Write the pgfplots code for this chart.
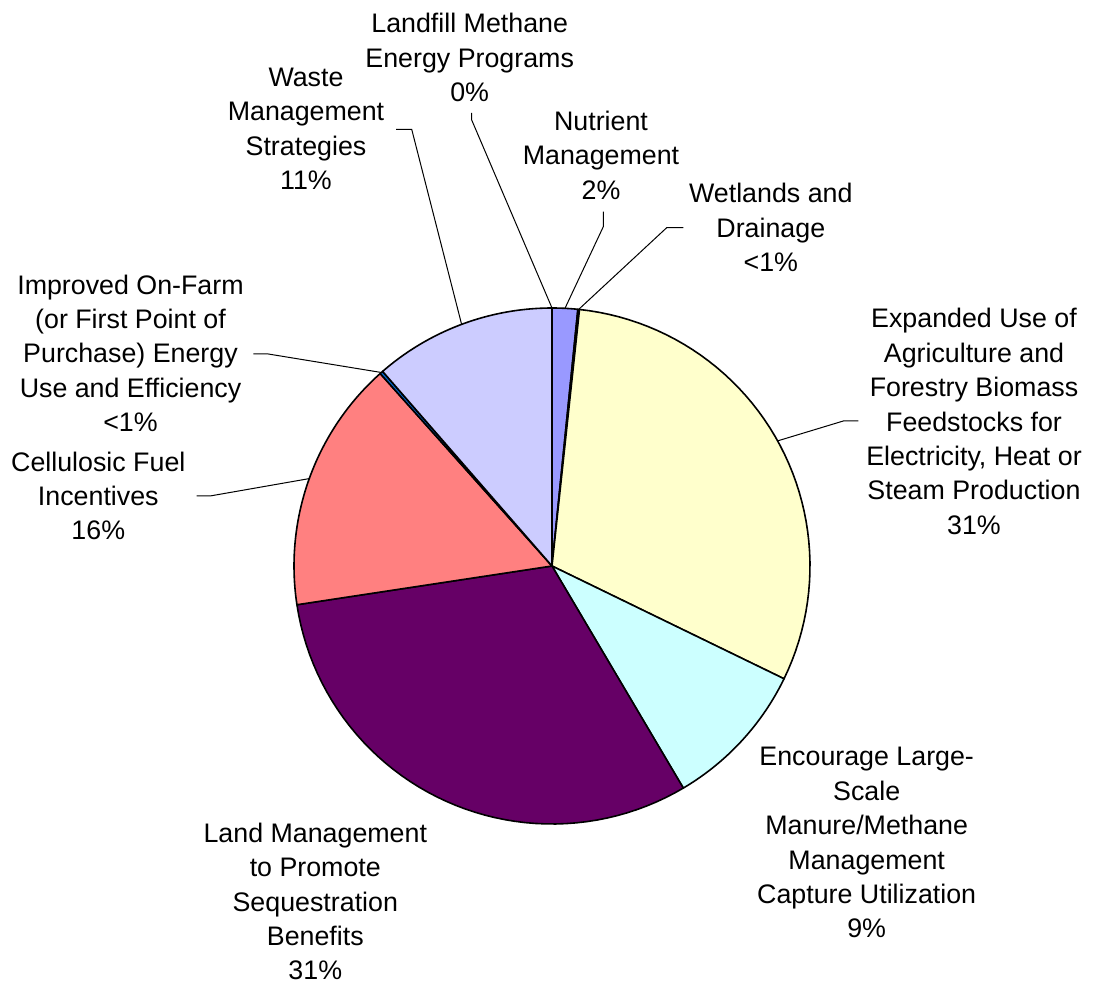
\documentclass[border=0pt]{standalone}
\usepackage{fontspec}
\setmainfont{Liberation Sans}
\usepackage{pgfplots}
\pgfplotsset{compat=1.18}
\definecolor{cA}{HTML}{9999FF}% Nutrient Management
\definecolor{cB}{HTML}{993366}% Wetlands and Drainage
\definecolor{cC}{HTML}{FFFFCC}% Expanded Use
\definecolor{cD}{HTML}{CCFFFF}% Encourage Large-Scale
\definecolor{cE}{HTML}{660066}% Land Management
\definecolor{cF}{HTML}{FF8080}% Cellulosic
\definecolor{cG}{HTML}{0066CC}% Improved On-Farm
\definecolor{cH}{HTML}{CCCCFF}% Waste Management
\definecolor{cI}{HTML}{000080}% Landfill Methane
% slice shares in percent, clockwise from 12 o'clock
\def\pA{1.6}  % Nutrient Management
\def\pB{0.1}  % Wetlands and Drainage
\def\pC{30.5} % Expanded Use of Agriculture and Forestry Biomass
\def\pD{9.3}  % Encourage Large-Scale Manure/Methane
\def\pE{31.1} % Land Management
\def\pF{15.8} % Cellulosic Fuel Incentives
\def\pG{0.2}  % Improved On-Farm
\def\pH{11.4} % Waste Management Strategies
\def\pI{0.0}  % Landfill Methane
\pgfmathsetmacro\aA{90}
\pgfmathsetmacro\aB{\aA-3.6*\pA}
\pgfmathsetmacro\aC{\aB-3.6*\pB}
\pgfmathsetmacro\aD{\aC-3.6*\pC}
\pgfmathsetmacro\aE{\aD-3.6*\pD}
\pgfmathsetmacro\aF{\aE-3.6*\pE}
\pgfmathsetmacro\aG{\aF-3.6*\pF}
\pgfmathsetmacro\aH{\aG-3.6*\pG}
\pgfmathsetmacro\aI{\aH-3.6*\pH}
\def\cx{552}\def\cy{420}\def\rr{258}
\tikzset{lab/.style={font=\fontsize{13.4}{17.2}\selectfont, align=center, anchor=base, inner sep=0pt}}
\begin{document}
\begin{tikzpicture}
\begin{axis}[
  scale only axis, width=547pt, height=493pt,
  xmin=0, xmax=1094, ymin=0, ymax=986,
  hide axis, clip=false,
]
\coordinate (ll) at (rel axis cs:0,0);
\coordinate (ur) at (rel axis cs:1,1);
\pgfplotsset{slice/.style={draw=black, line width=0.8pt, line join=round, samples=50}}
\addplot[slice, fill=cA, domain=\aB:\aA] ({\cx+\rr*cos(x)},{\cy+\rr*sin(x)}) -- (axis cs:\cx,\cy) -- cycle;
\addplot[slice, fill=cB, domain=\aC:\aB, samples=3] ({\cx+\rr*cos(x)},{\cy+\rr*sin(x)}) -- (axis cs:\cx,\cy) -- cycle;
\addplot[slice, fill=cC, domain=\aD:\aC] ({\cx+\rr*cos(x)},{\cy+\rr*sin(x)}) -- (axis cs:\cx,\cy) -- cycle;
\addplot[slice, fill=cD, domain=\aE:\aD] ({\cx+\rr*cos(x)},{\cy+\rr*sin(x)}) -- (axis cs:\cx,\cy) -- cycle;
\addplot[slice, fill=cE, domain=\aF:\aE] ({\cx+\rr*cos(x)},{\cy+\rr*sin(x)}) -- (axis cs:\cx,\cy) -- cycle;
\addplot[slice, fill=cF, domain=\aG:\aF] ({\cx+\rr*cos(x)},{\cy+\rr*sin(x)}) -- (axis cs:\cx,\cy) -- cycle;
\addplot[slice, fill=cG, domain=\aH:\aG, samples=3] ({\cx+\rr*cos(x)},{\cy+\rr*sin(x)}) -- (axis cs:\cx,\cy) -- cycle;
\addplot[slice, fill=cH, domain=\aI:\aH] ({\cx+\rr*cos(x)},{\cy+\rr*sin(x)}) -- (axis cs:\cx,\cy) -- cycle;
% leader lines
\pgfplotsset{leader/.style={black, line width=0.5pt, mark=none}}
\addplot[leader] coordinates {(471.7,873) (471.7,866) (552,678)};
\addplot[leader] coordinates {(396,856.7) (411.7,856.7) (461.6,661.7)};
\addplot[leader] coordinates {(603.3,774.3) (603.3,759.3) (565,677.7)};
\addplot[leader] coordinates {(683.3,758.3) (666.7,758.3) (578.7,676.6)};
\addplot[leader] coordinates {(858.3,565) (843.3,565) (777.6,545.1)};
\addplot[leader] coordinates {(253.3,632) (268.3,632) (381.4,613.5)};
\addplot[leader] coordinates {(196.7,490) (210,490) (309.3,507.4)};
% labels (anchored at the baseline of the last line)
\node[lab] at (axis cs:469.7,884.5) {Landfill Methane\\Energy Programs\\0\%};
\node[lab] at (axis cs:306,796.5) {Waste\\Management\\Strategies\\11\%};
\node[lab] at (axis cs:601,786.7) {Nutrient\\Management\\2\%};
\node[lab] at (axis cs:770.8,714.3) {Wetlands and\\Drainage\\<1\%};
\node[lab] at (axis cs:974,451.6) {Expanded Use of\\Agriculture and\\Forestry Biomass\\Feedstocks for\\Electricity, Heat or\\Steam Production\\31\%};
\node[lab] at (axis cs:130.5,554.3) {Improved On-Farm\\(or First Point of\\Purchase) Energy\\Use and Efficiency\\<1\%};
\node[lab] at (axis cs:98.3,446) {Cellulosic Fuel\\Incentives\\16\%};
\node[lab] at (axis cs:866.7,48) {Encourage Large-\\Scale\\Manure/Methane\\Management\\Capture Utilization\\9\%};
\node[lab] at (axis cs:315.3,6) {Land Management\\to Promote\\Sequestration\\Benefits\\31\%};
\end{axis}
\pgfresetboundingbox
\path (ll) rectangle (ur);
\end{tikzpicture}
\end{document}
